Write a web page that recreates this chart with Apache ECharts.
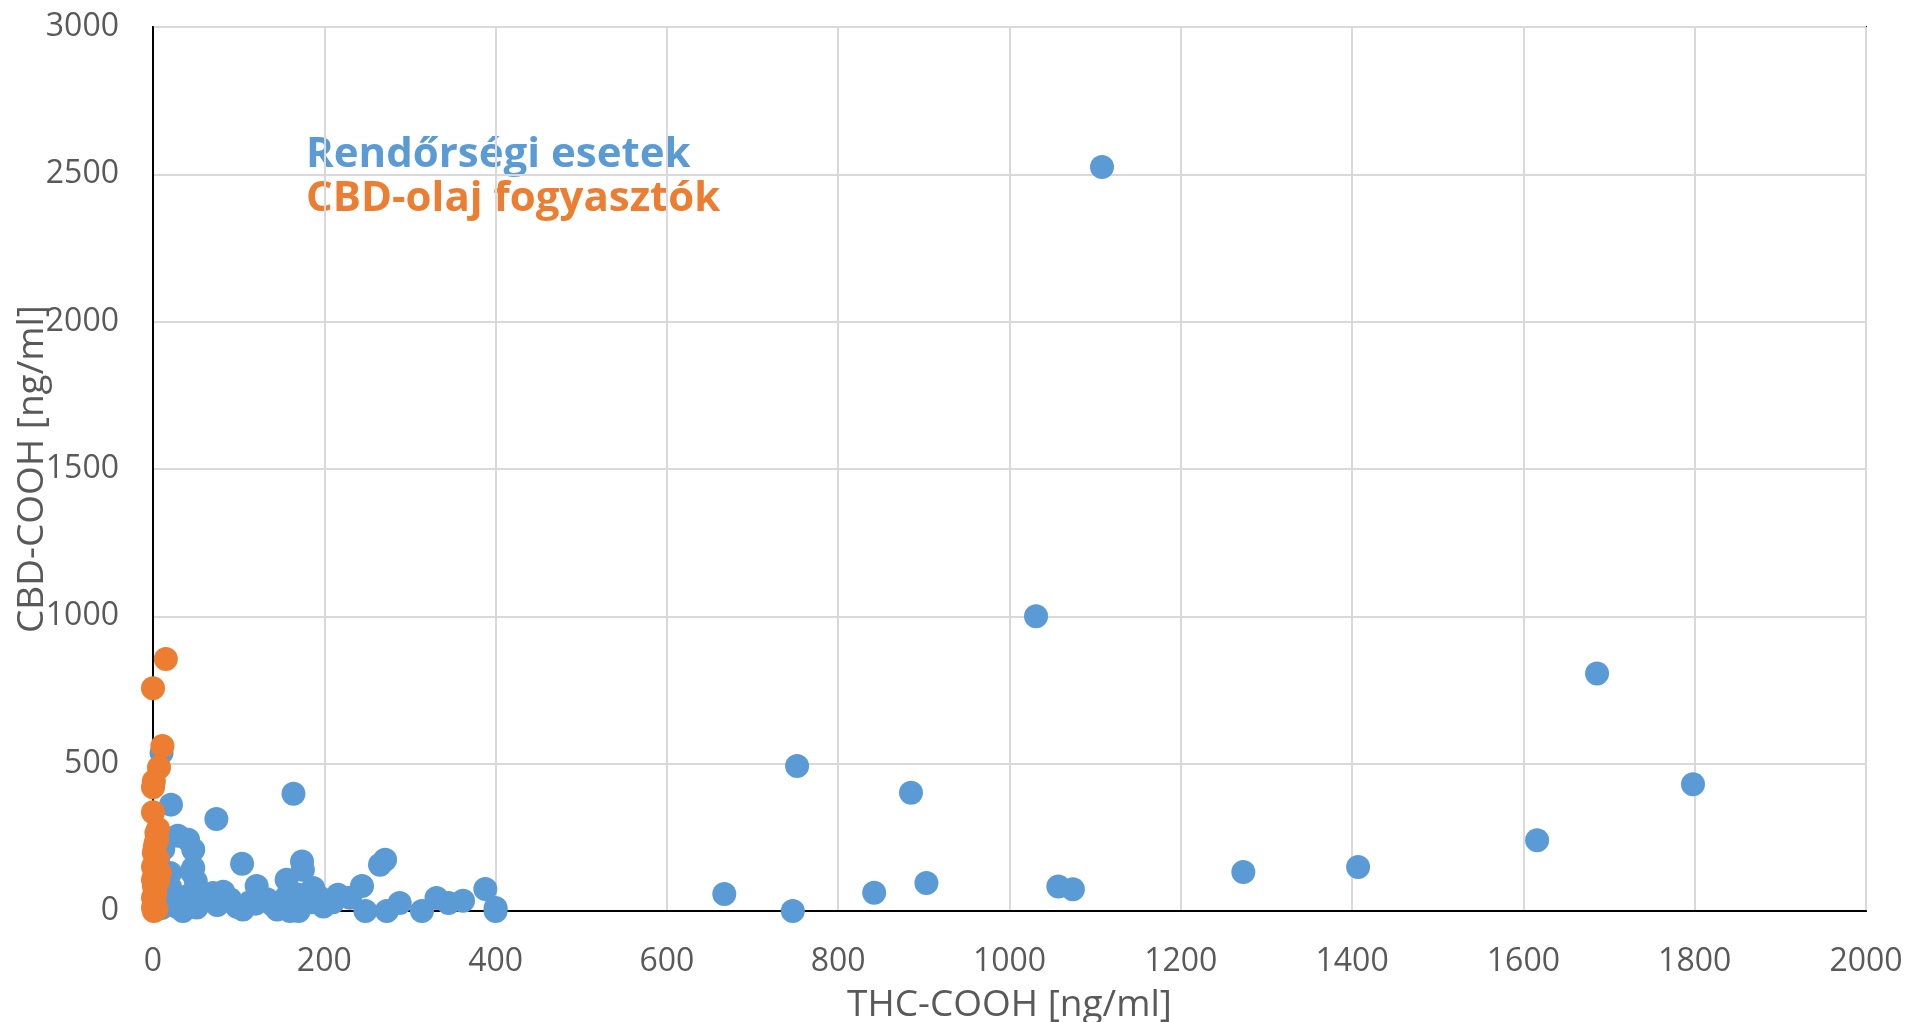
<!DOCTYPE html>
<html>
<head>
<meta charset="utf-8">
<script src="https://cdn.jsdelivr.net/npm/echarts@6/dist/echarts.min.js"></script>
<style>
  html, body { margin: 0; padding: 0; background: #fff; }
  #chart { width: 1909px; height: 1022px; }
</style>
</head>
<body>
<div id="chart"></div>
<script>
// tengelyek
const xTitle = "THC-COOH [ng/ml]";
const yTitle = "CBD-COOH [ng/ml]";
const seriesNames = ["Rendőrségi esetek", "CBD-olaj fogyasztók"];

// rendőrségi esetek [THC-COOH, CBD-COOH]
const policeCases = [
  [1108, 2525], [1031, 1000], [1686, 806], [1798, 430], [752, 492], [885, 401],
  [1616, 240], [1407, 149], [1273, 132], [1057, 83], [1074, 74], [903, 95],
  [842, 62], [667, 58], [747, 0],
  [10, 537], [21, 361], [164, 398], [74, 312], [29, 255], [41, 242], [47, 208],
  [47, 146], [45, 133], [104, 160], [174, 168], [175, 140], [156, 106], [121, 85],
  [187, 78], [20, 129], [216, 55], [199, 15], [271, 174], [265, 157], [244, 85],
  [216, 49], [248, 0], [273, 0], [288, 27], [314, 0], [331, 44], [345, 27],
  [362, 35], [388, 75], [400, 10], [400, 0],
  [28, 14], [51, 12], [70, 61], [82, 65], [98, 14], [113, 30], [125, 48], [133, 40],
  [156, 48], [160, 0], [140, 20], [170, 0], [185, 30], [60, 40], [40, 50], [15, 30],
  [10, 10], [35, 0], [75, 20], [90, 40], [105, 5], [120, 25], [145, 5], [170, 55],
  [195, 45], [210, 30], [230, 45], [20, 80], [15, 60], [50, 100], [6, 180], [12, 210]
];

// CBD-olaj fogyasztók
const cbdOilUsers = [
  [15, 855], [0, 756], [11, 560], [7, 487], [1, 440], [0, 420], [0, 335], [6, 278],
  [4, 265], [5, 242], [2, 215], [1, 198], [3, 170], [0, 150], [2, 128], [0, 106],
  [1, 85], [3, 62], [0, 45], [2, 27], [0, 12], [1, 0], [4, 5], [6, 100], [5, 180],
  [3, 230], [8, 130]
];

const blue = "#5B9BD5";
const orange = "#ED7D31";
const labelFont = "'Open Sans', sans-serif";

let chart = echarts.init(document.getElementById("chart"), null, { renderer: "canvas" });

let options = {
  animation: false,
  backgroundColor: "#fff",
  grid: {
    left: 153,
    top: 27,
    right: 43,
    bottom: 111,
    containLabel: false,
    outerBoundsMode: "none",
    show: true,
    borderColor: "#000",
    borderWidth: 2,
  },
  xAxis: {
    type: "value",
    min: 0,
    max: 2000,
    interval: 200,
    name: xTitle,
    nameLocation: "middle",
    nameGap: 76,
    nameTextStyle: { fontFamily: labelFont, fontSize: 37, color: "#595959" },
    axisLine: { show: true, onZero: false, lineStyle: { color: "#000", width: 2 } },
    axisTick: { show: false },
    axisLabel: {
      margin: 35,
      fontFamily: labelFont,
      fontSize: 32,
      color: "#595959",
      formatter: (v) => String(v),
    },
    splitLine: { show: true, lineStyle: { color: "#d9d9d9", width: 2 } },
  },
  yAxis: {
    type: "value",
    min: 0,
    max: 3000,
    interval: 500,
    name: yTitle,
    nameLocation: "middle",
    nameGap: 102,
    nameMoveOverlap: false,
    nameTextStyle: { fontFamily: labelFont, fontSize: 37, color: "#595959" },
    axisLine: { show: true, onZero: false, lineStyle: { color: "#000", width: 2 } },
    axisTick: { show: false },
    axisLabel: {
      margin: 34,
      fontFamily: labelFont,
      fontSize: 32,
      color: "#595959",
      formatter: (v) => String(v),
    },
    splitLine: { show: true, lineStyle: { color: "#d9d9d9", width: 2 } },
  },
  graphic: [
    {
      type: "text",
      left: 306,
      top: 134,
      style: {
        text: seriesNames[0],
        fill: blue,
        font: "bold 42px 'Open Sans', sans-serif",
      },
    },
    {
      type: "text",
      left: 306,
      top: 178,
      style: {
        text: seriesNames[1],
        fill: orange,
        font: "bold 42px 'Open Sans', sans-serif",
      },
    },
  ],
  series: [
    {
      name: seriesNames[0],
      type: "scatter",
      symbol: "circle",
      symbolSize: 24,
      itemStyle: { color: blue, opacity: 1 },
      data: policeCases,
    },
    {
      name: seriesNames[1],
      type: "scatter",
      symbol: "circle",
      symbolSize: 24,
      itemStyle: { color: orange, opacity: 1 },
      data: cbdOilUsers,
    },
  ],
};

chart.setOption(options);
</script>
</body>
</html>
